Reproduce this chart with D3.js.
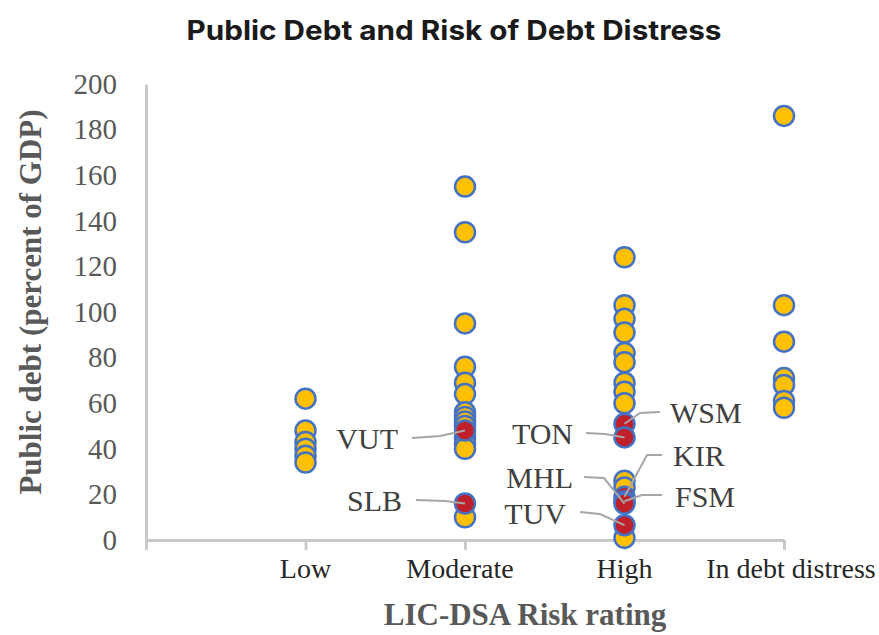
<!DOCTYPE html>
<html>
<head>
<meta charset="utf-8">
<script src="https://cdn.jsdelivr.net/npm/d3@7"></script>
<style>
  html, body { margin: 0; padding: 0; background: #fff; }
  svg { display: block; }
</style>
</head>
<body>
<svg id="chart" width="879" height="635"></svg>
<script>
// ---- data ----
const categories = ["Low", "Moderate", "High", "In debt distress"];
const lowValues = [62, 48, 43, 40, 37, 34];
const moderateValues = [155, 135, 95, 76, 69, 64, 56, 54, 52, 50, 45, 42, 40, 10];
const highValues = [124, 103, 97, 91, 82, 78, 69, 65, 60, 26, 23, 1];
const distressValues = [186, 103, 87, 71, 68, 61, 58];
const highlightCodes = ["VUT", "SLB", "WSM", "TON", "KIR", "FSM", "MHL", "TUV"];
const highlightCategory = ["Moderate", "Moderate", "High", "High", "High", "High", "High", "High"];
const highlightValues = [48, 16, 51, 45, 19, 17, 16, 6.5];
const yTicks = [0, 20, 40, 60, 80, 100, 120, 140, 160, 180, 200];

// ---- layout / style ----
const svg = d3.select("#chart");
const x = d3.scaleLinear().domain([0, 4]).range([146, 784]);
const y = d3.scaleLinear().domain([0, 200]).range([540, 84]);
const catX = c => x(categories.indexOf(c) + 1);
const serif = "'Liberation Serif', 'DejaVu Serif', serif";

const allSeries = [lowValues, moderateValues, highValues, distressValues];
const basePoints = [];
allSeries.forEach((vals, i) => vals.forEach(v => basePoints.push({ cat: categories[i], v })));
const redPoints = highlightCodes.map((code, i) => ({ code, cat: highlightCategory[i], v: highlightValues[i] }));

// title
svg.append("text")
  .attr("x", 454).attr("y", 40)
  .attr("text-anchor", "middle")
  .attr("textLength", 535)
  .attr("lengthAdjust", "spacingAndGlyphs")
  .style("font-family", "Inter, Lato, sans-serif")
  .style("font-weight", 700)
  .style("font-size", "27px")
  .style("fill", "#1a1a1a")
  .text("Public Debt and Risk of Debt Distress");

const axisColor = "#c9c9c9";

// x axis
const gx = svg.append("g").attr("transform", `translate(0,${y(0)})`)
  .call(d3.axisBottom(x).tickValues([0, 1, 2, 3, 4]).tickSize(10).tickSizeOuter(0).tickFormat(""));
gx.select(".domain").attr("stroke", axisColor).attr("stroke-width", 3);
gx.selectAll(".tick line").attr("stroke", axisColor).attr("stroke-width", 3);

// y axis
const gy = svg.append("g").attr("transform", `translate(${x(0)},0)`)
  .call(d3.axisLeft(y).tickValues(yTicks).tickSize(0).tickSizeOuter(0).tickPadding(29));
gy.select(".domain").attr("stroke", axisColor).attr("stroke-width", 3);
gy.selectAll(".tick text")
  .style("font-family", serif)
  .style("font-size", "29px")
  .style("fill", "#595959");

// category labels
svg.append("g").selectAll("text").data(categories).join("text")
  .attr("x", d => catX(d) + (d === "In debt distress" ? 7 : d === "Moderate" ? -5 : 0))
  .attr("y", 578)
  .attr("text-anchor", "middle")
  .style("font-family", serif)
  .style("font-size", "28px")
  .style("fill", "#262626")
  .text(d => d);

// axis titles
svg.append("text")
  .attr("transform", "translate(41,302) rotate(-90)")
  .attr("text-anchor", "middle")
  .style("font-family", serif)
  .style("font-weight", "bold")
  .style("font-size", "31px")
  .style("fill", "#595959")
  .text("Public debt (percent of GDP)");

svg.append("text")
  .attr("x", 525).attr("y", 625)
  .attr("text-anchor", "middle")
  .style("font-family", serif)
  .style("font-weight", "bold")
  .style("font-size", "31px")
  .style("fill", "#595959")
  .text("LIC-DSA Risk rating");

// points
const R = 10;
svg.append("g").selectAll("circle").data(basePoints).join("circle")
  .attr("cx", d => catX(d.cat)).attr("cy", d => y(d.v)).attr("r", R)
  .attr("fill", "#FFC000").attr("stroke", "#4472C4").attr("stroke-width", 2.5);

svg.append("g").selectAll("circle").data(redPoints).join("circle")
  .attr("cx", d => catX(d.cat)).attr("cy", d => y(d.v)).attr("r", R)
  .attr("fill", "#C0202A").attr("stroke", "#4472C4").attr("stroke-width", 2.5);

// annotation layout: label position and leader-line elbow points
const annot = {
  VUT: { lx: 398, ly: 438, anchor: "end", path: [[412, 438], [440, 436]] },
  SLB: { lx: 402, ly: 500, anchor: "end", path: [[416, 500], [445, 501]] },
  TON: { lx: 573, ly: 433, anchor: "end", path: [[586, 433], [605, 434]] },
  WSM: { lx: 670, ly: 412, anchor: "start", path: [[660, 412], [640, 413]] },
  KIR: { lx: 673, ly: 455, anchor: "start", path: [[662, 455], [647, 455]] },
  FSM: { lx: 675, ly: 496, anchor: "start", path: [[662, 495], [642, 495]] },
  MHL: { lx: 573, ly: 477, anchor: "end", path: [[584, 477], [604, 478]] },
  TUV: { lx: 566, ly: 513, anchor: "end", path: [[580, 512], [600, 514]] }
};

const line = d3.line();
const ann = svg.append("g");
redPoints.forEach(p => {
  const a = annot[p.code];
  const pts = a.path.concat([[catX(p.cat), y(p.v)]]);
  ann.append("path").attr("d", line(pts))
    .attr("fill", "none").attr("stroke", "#a6a6a6").attr("stroke-width", 2);
  ann.append("text")
    .attr("x", a.lx).attr("y", a.ly).attr("dy", "0.35em")
    .attr("text-anchor", a.anchor)
    .style("font-family", serif)
    .style("font-size", "30px")
    .style("fill", "#404040")
    .text(p.code);
});
</script>
</body>
</html>
